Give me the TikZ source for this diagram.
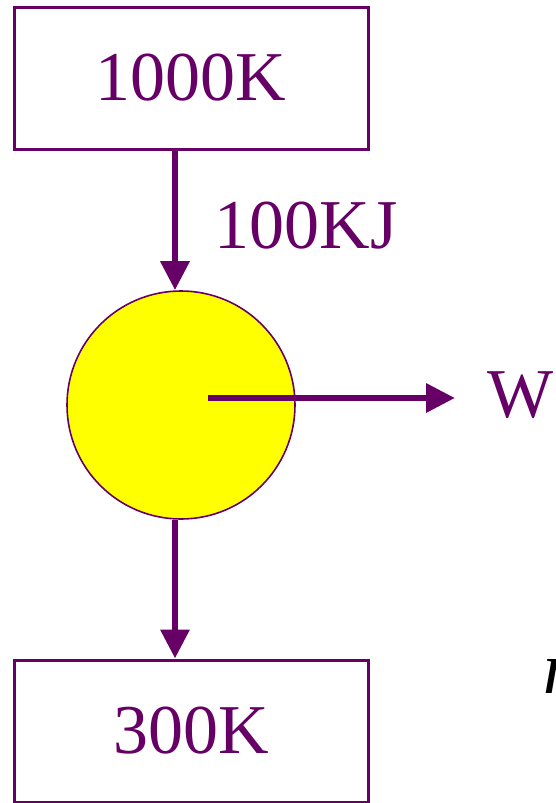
\documentclass[tikz,border=0pt]{standalone}
\usepackage{fontspec}
\setmainfont{Liberation Serif}
\usetikzlibrary{positioning, arrows.meta}
\definecolor{plum}{HTML}{660066}
\definecolor{sun}{HTML}{FFFF00}
\tikzset{
  resv/.style={draw=plum, line width=3pt, minimum width=354pt, minimum height=142pt,
               text=plum, font=\fontsize{70}{84}\selectfont, inner sep=0pt},
  eng/.style={circle, draw=plum, line width=1.6pt, fill=sun, minimum size=228pt, inner sep=0pt},
  lbl/.style={text=plum, font=\fontsize{70}{84}\selectfont, inner sep=0pt},
  flow/.style={-{Triangle[length=29pt, width=28pt]}, line width=6.5pt, draw=plum},
}
\begin{document}
\begin{tikzpicture}[x=1pt, y=-1pt]
  \useasboundingbox (0,0) rectangle (555,803);
  \node[resv] (hot) at (191,78) {1000K};
  \node[eng] (engine) at (181,405) {};
  \node[resv] (cold) at (191,731) {300K};
  \node[lbl] (heat) at (306,226) {100KJ};
  \node[lbl, anchor=base west] (work) at (487,417) {W};
  % cut off at the right edge
  \node[font=\fontsize{74}{84}\selectfont\itshape, inner sep=0pt, anchor=base west] (eff) at (543,693) {η};
  \draw[flow] ([xshift=-16pt]hot.south) -- ([xshift=-6pt]engine.north);
  \draw[flow] ([xshift=27pt]engine.center |- 0,398) -- ([xshift=-32pt]work.west |- 0,398);
  \draw[flow] ([xshift=-6pt]engine.south) -- ([xshift=-16pt]cold.north);
\end{tikzpicture}
\end{document}
